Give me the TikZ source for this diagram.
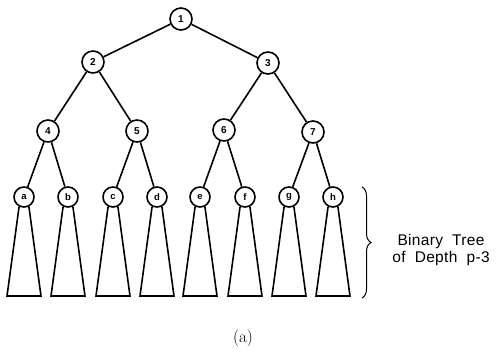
\documentclass[tikz,border=0pt]{standalone}
\usepackage{fontspec}
\usetikzlibrary{calc,decorations.pathreplacing}
\newfontfamily\nodefont{Liberation Sans}
\newfontfamily\notefont[LetterSpace=2,WordSpace=2]{Liberation Sans}
\begin{document}
\begin{tikzpicture}[x=1pt,y=-1pt,
  every path/.style={line width=1.6pt},
  inner/.style={circle,draw,line width=1.6pt,minimum size=22pt,inner sep=0pt,
    font=\nodefont\bfseries\fontsize{10}{11}\selectfont},
  leaf/.style={circle,draw,line width=1.6pt,minimum size=20pt,inner sep=0pt,
    font=\nodefont\bfseries\fontsize{9.5}{10}\selectfont},
  subtree/.style={draw,line width=1.6pt,line join=miter}]
\useasboundingbox (0,0) rectangle (496,355);

% internal nodes
\node[inner] (n1) at (181,19) {1};
\node[inner] (n2) at (93,62) {2};
\node[inner] (n3) at (268,63) {3};
\node[inner] (n4) at (48,131) {4};
\node[inner] (n5) at (137,131) {5};
\node[inner] (n6) at (224,130) {6};
\node[inner] (n7) at (313,132) {7};

% level-3 nodes
\node[leaf] (a) at (24,197) {a};
\node[leaf] (b) at (68,197) {b};
\node[leaf] (c) at (113,197) {c};
\node[leaf] (d) at (157,197) {d};
\node[leaf] (e) at (200,197) {e};
\node[leaf] (f) at (245,197) {f};
\node[leaf] (g) at (289,197) {g};
\node[leaf] (h) at (333,197) {h};

% tree edges
\draw (n1) -- (n2);
\draw (n1) -- (n3);
\draw (n2) -- (n4);
\draw (n2) -- (n5);
\draw (n3) -- (n6);
\draw (n3) -- (n7);
\draw (n4) -- (a);
\draw (n4) -- (b);
\draw (n5) -- (c);
\draw (n5) -- (d);
\draw (n6) -- (e);
\draw (n6) -- (f);
\draw (n7) -- (g);
\draw (n7) -- (h);

% subtrees hanging below each level-3 node
\foreach \s in {a,b,c,d,e,f,g,h}{
  \draw[subtree] (\s.-117) -- ($(\s)+(-17,99)$) -- ($(\s)+(17,99)$) -- (\s.-63);
}

% brace and its label
\coordinate (btop) at (362,187);
\coordinate (bbot) at (362,298);
\draw[line width=1pt,decorate,decoration={brace,amplitude=9pt}] (btop) -- (bbot);
\node[font=\notefont\fontsize{15.5}{16.5}\selectfont,align=center] (lbl) at (441,250)
  {Binary Tree\\of Depth p-3};

\node[font=\fontsize{17}{20}\selectfont] (cap) at (243,338) {(a)};
\end{tikzpicture}
\end{document}
